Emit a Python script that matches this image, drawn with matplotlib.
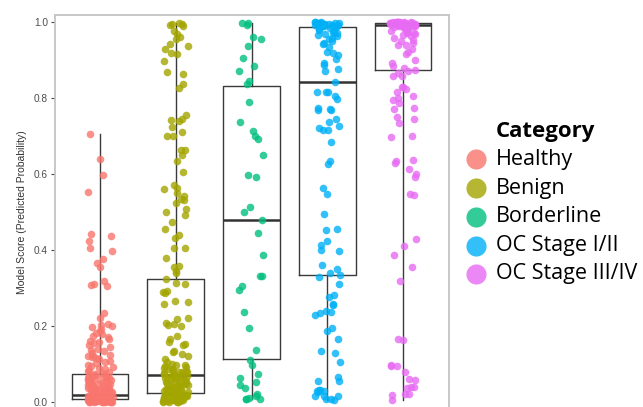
import numpy as np
import matplotlib
matplotlib.use("Agg")
import matplotlib.pyplot as plt
from matplotlib.lines import Line2D

categories = ["Healthy", "Benign", "Borderline", "OC Stage I/II", "OC Stage III/IV"]
colors = ["#F8766D", "#A3A500", "#00BF7D", "#00B0F6", "#E76BF3"]

healthy = [0.706, 0.640, 0.597, 0.553, 0.443, 0.438, 0.425, 0.404, 0.397, 0.376, 0.365, 0.354,
           0.318, 0.311, 0.309, 0.305,
           0.235, 0.222, 0.205, 0.203, 0.200, 0.198, 0.192, 0.186, 0.182, 0.178, 0.175, 0.170,
           0.165, 0.160, 0.158, 0.155, 0.150, 0.145, 0.140, 0.137, 0.133, 0.128, 0.125, 0.122,
           0.121, 0.119, 0.116, 0.112, 0.108, 0.105, 0.102, 0.098, 0.095, 0.092, 0.090, 0.087,
           0.084, 0.081, 0.078, 0.076,
           0.074, 0.071, 0.069, 0.066, 0.064, 0.062, 0.060, 0.058, 0.056, 0.054, 0.052, 0.050,
           0.048, 0.046, 0.044, 0.042, 0.040, 0.038, 0.036, 0.035, 0.033, 0.031, 0.030, 0.028,
           0.027, 0.026, 0.025, 0.024, 0.022, 0.021, 0.065, 0.059, 0.053, 0.047, 0.041, 0.037,
           0.032, 0.029, 0.023, 0.070, 0.063, 0.057, 0.049, 0.043, 0.034,
           0.019, 0.018, 0.017, 0.016, 0.015, 0.014, 0.013, 0.012, 0.011, 0.010, 0.010, 0.009,
           0.009, 0.008, 0.008, 0.007, 0.007, 0.006, 0.006, 0.005, 0.005, 0.004, 0.004, 0.003,
           0.003, 0.003, 0.002, 0.002, 0.002, 0.001, 0.001, 0.001, 0.001, 0.000, 0.000, 0.000,
           0.012, 0.015, 0.018, 0.020, 0.004, 0.006, 0.009, 0.011, 0.013, 0.002, 0.001, 0.003,
           0.005, 0.007, 0.010, 0.014, 0.016, 0.000, 0.002, 0.004]

benign = [0.998, 0.996, 0.994, 0.991, 0.989, 0.976, 0.968, 0.961, 0.956, 0.941, 0.937, 0.930,
          0.918, 0.917, 0.897, 0.868, 0.862, 0.836, 0.827,
          0.754, 0.746, 0.741, 0.739, 0.724, 0.711, 0.701, 0.699, 0.664, 0.662, 0.651, 0.634,
          0.604, 0.570, 0.564, 0.560, 0.551, 0.543, 0.534, 0.532, 0.525, 0.509, 0.500, 0.491,
          0.474, 0.456, 0.440, 0.432, 0.406, 0.404, 0.380, 0.358, 0.354, 0.345, 0.340, 0.325,
          0.314, 0.310, 0.292, 0.290, 0.286, 0.266, 0.264, 0.258,
          0.222, 0.219, 0.209, 0.204, 0.203, 0.199, 0.174, 0.165, 0.159, 0.152, 0.149, 0.135,
          0.131, 0.126, 0.121, 0.112, 0.104, 0.101, 0.098, 0.094, 0.089, 0.086, 0.083, 0.080,
          0.078, 0.076, 0.074, 0.072, 0.097, 0.092, 0.087, 0.082, 0.079, 0.075,
          0.070, 0.068, 0.066, 0.064, 0.062, 0.060, 0.058, 0.056, 0.054, 0.052, 0.050, 0.048,
          0.046, 0.044, 0.042, 0.040, 0.038, 0.036, 0.034, 0.032, 0.030, 0.028, 0.027, 0.026,
          0.025, 0.024, 0.023, 0.069, 0.063, 0.057, 0.051, 0.045, 0.039, 0.033, 0.029,
          0.022, 0.021, 0.020, 0.019, 0.018, 0.017, 0.016, 0.015, 0.014, 0.013, 0.012, 0.011,
          0.010, 0.009, 0.008, 0.007, 0.006, 0.005, 0.004, 0.003, 0.002, 0.001, 0.000, 0.000,
          0.015, 0.010, 0.005, 0.003, 0.012, 0.008, 0.001, 0.018]

borderline = [0.998, 0.997, 0.993, 0.961, 0.955, 0.937, 0.905, 0.883, 0.870, 0.845, 0.836,
              0.790, 0.738, 0.712, 0.701, 0.692, 0.649, 0.597, 0.593, 0.514, 0.499, 0.480,
              0.446, 0.387, 0.332, 0.331, 0.304, 0.295, 0.238, 0.194,
              0.136, 0.111, 0.098, 0.075, 0.063, 0.052, 0.045, 0.036, 0.021, 0.017, 0.010,
              0.009, 0.008, 0.007]

oc_early = [1.000, 0.999, 0.999, 0.998, 0.998, 0.997, 0.997, 0.996, 0.996, 0.995, 0.995, 0.994,
            0.994, 0.993, 0.993, 0.992, 0.992, 0.991, 0.991, 0.990, 0.990, 0.989, 0.989, 0.988,
            0.985, 0.982, 0.980, 0.978, 0.975, 0.972, 0.970, 0.968, 0.965, 0.962, 0.958, 0.955,
            0.950, 0.945, 0.941, 0.935, 0.922, 0.918, 0.914, 0.903, 0.891, 0.887, 0.876, 0.872,
            0.842,
            0.817, 0.816, 0.815, 0.804, 0.797, 0.773, 0.771, 0.769, 0.768, 0.745, 0.737, 0.727,
            0.720, 0.716, 0.715, 0.683, 0.633, 0.627, 0.562, 0.547, 0.496, 0.454, 0.453, 0.425,
            0.413, 0.399, 0.397, 0.360, 0.351, 0.340, 0.335,
            0.330, 0.310, 0.281, 0.276, 0.257, 0.255, 0.240, 0.237, 0.234, 0.230, 0.196, 0.186,
            0.167, 0.135, 0.129, 0.104, 0.065, 0.056, 0.055, 0.032, 0.031, 0.030, 0.029, 0.027,
            0.017, 0.016, 0.015, 0.008, 0.007, 0.006]

oc_late = [1.000, 1.000, 1.000, 1.000, 0.999, 0.999, 0.999, 0.999, 0.998, 0.998, 0.998, 0.998,
           0.997, 0.997, 0.997, 0.997, 0.996, 0.996, 0.996, 0.995, 0.995, 0.995, 0.994, 0.994,
           0.994, 0.993, 0.993, 0.993, 0.992, 0.992, 0.992, 0.991, 0.991, 0.990, 0.990, 0.990,
           0.989, 0.987, 0.985, 0.983, 0.981, 0.979, 0.977, 0.975, 0.972, 0.970, 0.968, 0.965,
           0.962, 0.958, 0.953, 0.950, 0.945, 0.940, 0.939, 0.930, 0.922, 0.915, 0.900, 0.893,
           0.883, 0.880, 0.875,
           0.870, 0.865, 0.858, 0.857, 0.829, 0.828, 0.825, 0.817, 0.806, 0.800, 0.795, 0.788,
           0.773, 0.770, 0.749, 0.745, 0.734, 0.701, 0.697, 0.636, 0.635, 0.630, 0.613, 0.601,
           0.593, 0.548, 0.544,
           0.430, 0.410, 0.387, 0.356, 0.318, 0.165, 0.164, 0.097, 0.096, 0.094, 0.078, 0.060,
           0.059, 0.040, 0.039, 0.037, 0.021, 0.020, 0.019, 0.005]

series = [healthy, benign, borderline, oc_early, oc_late]

# box statistics
box_q1 = [0.008, 0.023, 0.113, 0.333, 0.874]
box_med = [0.019, 0.071, 0.478, 0.841, 0.991]
box_q3 = [0.075, 0.325, 0.832, 0.988, 0.997]
box_lo = [0.000, 0.000, 0.007, 0.006, 0.005]
box_hi = [0.706, 0.998, 0.998, 1.000, 1.000]

y_ticks = [0.0, 0.2, 0.4, 0.6, 0.8, 1.0]
y_ticklabels = ["0.0", "0.2", "0.4", "0.6", "0.8", "1.0"]

W, H = 643, 407
fig = plt.figure(figsize=(W / 100, H / 100), dpi=100)
ymin, ymax = -0.05, 1.018
ax_left, ax_right, ax_top = 55, 449, 15
zero_px = 402
px_per_unit = (zero_px - 22)
ax_bottom_px = zero_px + (0 - ymin) * px_per_unit
ax_top_px = zero_px - ymax * px_per_unit
ax = fig.add_axes([ax_left / W, 1 - ax_bottom_px / H, (ax_right - ax_left) / W,
                   (ax_bottom_px - ax_top_px) / H])

stats = []
for i in range(len(categories)):
    stats.append(dict(med=box_med[i], q1=box_q1[i], q3=box_q3[i],
                      whislo=box_lo[i], whishi=box_hi[i], fliers=[], label=categories[i]))
ax.bxp(stats, positions=range(len(categories)), widths=0.75, showfliers=False,
       showcaps=False, patch_artist=False,
       boxprops=dict(color="#3a3a3a", linewidth=1.0),
       whiskerprops=dict(color="#3a3a3a", linewidth=1.0),
       medianprops=dict(color="#333333", linewidth=1.8), zorder=1)

rng = np.random.default_rng(11)
for i, vals in enumerate(series):
    vals = np.asarray(vals)
    xj = i + rng.uniform(-0.17, 0.17, len(vals))
    ax.scatter(xj, vals, s=30, color=colors[i], alpha=0.8, linewidths=0, zorder=3)

ax.set_xlim(-0.594, 4.607)
ax.set_ylim(ymin, ymax)
ax.set_xticks([])
ax.set_yticks(y_ticks)
ax.set_yticklabels(y_ticklabels, fontfamily="Liberation Sans")
ax.tick_params(axis="y", length=3, width=0.8, color="#444444", labelsize=7.3,
               labelcolor="#4D4D4D", pad=2)
for side in ["left", "top", "right"]:
    ax.spines[side].set_color("#C4C4C4")
    ax.spines[side].set_linewidth(1.3)
ax.spines["bottom"].set_visible(False)
ax.set_ylabel("Model Score (Predicted Probability)", fontsize=7.5, color="#333333",
              fontfamily="Liberation Sans")
ax.yaxis.set_label_coords((27 - ax_left) / (ax_right - ax_left),
                          (0.5 - ymin) / (ymax - ymin))

# legend
fig.text(496 / W, 1 - 132 / H, "Category", fontsize=16, fontweight="bold",
         fontfamily="Open Sans", va="center", ha="left")
legend_y = [159, 188, 217, 246, 274]
for i, cat in enumerate(categories):
    fig.add_artist(Line2D([476 / W], [1 - legend_y[i] / H], transform=fig.transFigure,
                          marker="o", ms=14.5, ls="", color=colors[i], alpha=0.8, mew=0))
    fig.text(496 / W, 1 - legend_y[i] / H, cat, fontsize=15.5, fontfamily="Open Sans",
             va="center", ha="left")

fig.savefig("out.png", dpi=100)
